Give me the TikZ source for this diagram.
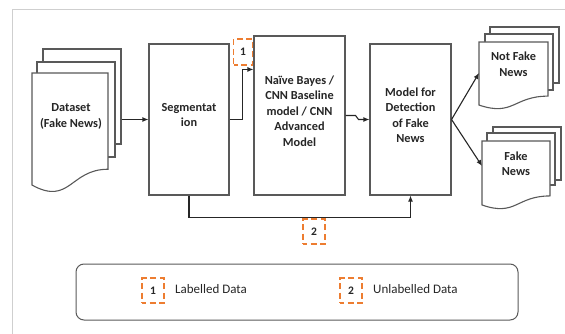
\documentclass[tikz,border=0pt]{standalone}
\usepackage{fontspec}
\setmainfont{Carlito}
\usetikzlibrary{arrows.meta,calc}

\definecolor{edge}{HTML}{595959}
\definecolor{ink}{HTML}{262626}
\definecolor{tag}{HTML}{ED7D31}
\definecolor{framegray}{HTML}{CFCFCF}

\tikzset{
  stage/.style={draw=edge, line width=1.1pt, fill=white, rectangle, inner sep=0pt},
  sheet/.style={draw=edge, line width=1.1pt, fill=white, rectangle, inner sep=0pt},
  outline/.style={draw=edge, line width=1.1pt, fill=white},
  caption/.style={text=ink, font=\bfseries\fontsize{12.3}{15.5}\selectfont, align=center, inner sep=0pt},
  legendtext/.style={text=ink, font=\fontsize{13}{15}\selectfont, inner sep=0pt, anchor=west},
  conn/.style={draw=ink, line width=1.1pt},
  arr/.style={conn, -{Latex[length=6pt,width=5pt]}},
  tagbox/.style={draw=tag, line width=1.4pt, dash pattern=on 6pt off 3.5pt, dash phase=2pt,
    rectangle, inner sep=0pt, text=ink, font=\bfseries\fontsize{11.5}{13}\selectfont},
}

% front sheet of a document stack: left x, top y, right x, height
\newcommand\docfront[4]{%
  \path[outline] (#1,#2) -- (#3,#2) -- (#3,{#2+0.802*#4})
    .. controls ({(#1+#3)/2},{#2+0.802*#4}) and ({(#1+#3)/2},{#2+1.1075*#4}) ..
    (#1,{#2+0.934*#4}) -- cycle;}

\begin{document}
\begin{tikzpicture}[x=1pt,y=-1pt]
\useasboundingbox (0,0) rectangle (565,334);

% page frame
\draw[framegray, line width=1pt] (12,334) -- (12,10) -- (565,10);

% ---- input dataset stack
\node[sheet, minimum width=78, minimum height=95] (ds3) at (82,96.5) {};
\node[sheet, minimum width=78, minimum height=95] (ds2) at (76,109.5) {};
\docfront{32}{73}{108}{120}
\node[caption] (ds) at (71,116.5) {Dataset\\(Fake News)};

% ---- processing stages
\node[stage, minimum width=80, minimum height=151] (seg) at (189,119.5) {};
\node[caption] (segtxt) at (189,115) {Segmentat\\ion};

\node[stage, minimum width=91, minimum height=159] (nb) at (299.5,115.5) {};
\node[caption] (nbtxt) at (299.5,111) {Naïve Bayes /\\CNN Baseline\\model / CNN\\Advanced\\Model};

\node[stage, minimum width=81, minimum height=151] (mdl) at (410.5,119.5) {};
\node[caption] (mdltxt) at (410.5,115) {Model for\\Detection\\of Fake\\News};

% ---- output stacks
\node[sheet, minimum width=69, minimum height=56] (nf3) at (524.5,55) {};
\node[sheet, minimum width=68, minimum height=56] (nf2) at (519,62) {};
\docfront{479}{42}{548}{67.5}
\node[caption] (nf) at (513.5,64) {Not Fake\\News};
\coordinate (nfin) at (479,73);

\node[sheet, minimum width=68, minimum height=53] (fk3) at (527,153.5) {};
\node[sheet, minimum width=68, minimum height=52] (fk2) at (521,159) {};
\docfront{482}{141}{550}{68.5}
\node[caption] (fk) at (516,163.5) {Fake\\News};
\coordinate (fkin) at (482,166);

% ---- connectors
\draw[arr] (ds3.east |- seg.west) -- (seg.west);
\draw[arr] (seg.east) -- ++(13,0) |- ([yshift=-34pt]nb.north west);
\draw[arr] (nb.east) -- ++(10,0) -- ++(3,4) -- (mdl.west);
\draw[arr] (seg.south) -- ++(0,22) -| (mdl.south);
\draw[arr] (mdl.east) -- (nfin);
\draw[arr] (mdl.east) -- (fkin);

% ---- data tags on the flows
\node[tagbox, minimum width=19, minimum height=26] (tag1) at (243,52) {1};
\node[tagbox, minimum width=22, minimum height=25] (tag2) at (314,231.5) {2};

% ---- legend
\node[draw=edge, line width=1pt, rounded corners=8pt, minimum width=442, minimum height=56] (legend) at (297,292) {};
\node[tagbox, minimum width=22, minimum height=25] (key1) at (153,290.5) {1};
\node[legendtext] (key1txt) at (175,289.5) {Labelled Data};
\node[tagbox, minimum width=22, minimum height=25] (key2) at (351,290.5) {2};
\node[legendtext] (key2txt) at (373,289.5) {Unlabelled Data};
\end{tikzpicture}
\end{document}
